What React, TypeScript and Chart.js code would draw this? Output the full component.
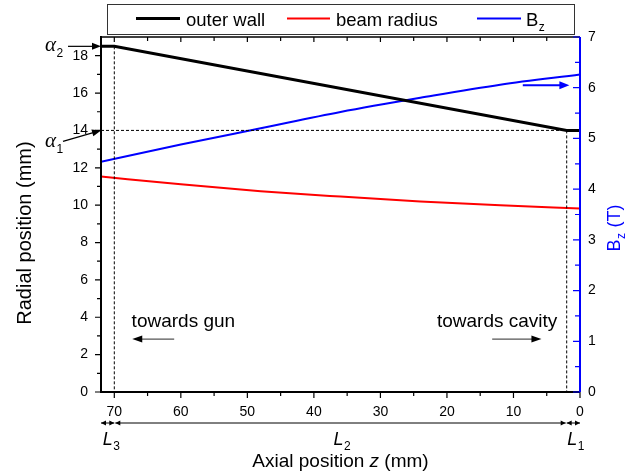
import React, { useEffect, useRef } from "react";
import { Chart, registerables } from "chart.js";

Chart.register(...registerables);

// ---- data ----
const curveZ = [72, 60, 48, 36, 24, 12, 0];
const beamRadius = [11.53, 11.12, 10.75, 10.46, 10.2, 9.99, 9.82];
const bzField = [4.54, 4.88, 5.2, 5.52, 5.8, 6.06, 6.26];
const wallZ = [72, 70, 2, 0];
const wallR = [18.5, 18.5, 14, 14];

const xTicks = [0, 10, 20, 30, 40, 50, 60, 70];
const xMinorTicks = [5, 15, 25, 35, 45, 55, 65];
const yLeftTicks = [0, 2, 4, 6, 8, 10, 12, 14, 16, 18];
const yLeftMinor = [1, 3, 5, 7, 9, 11, 13, 15, 17];
const yRightTicks = [0, 1, 2, 3, 4, 5, 6, 7];
const yRightMinor = [0.5, 1.5, 2.5, 3.5, 4.5, 5.5, 6.5];

const alpha1 = 14;
const alpha2 = 18.5;
const zL3 = 70; // end of L3 section
const zL1 = 2; // start of L1 section

const SANS = "'Liberation Sans', Arial, sans-serif";
const SERIF = "'Liberation Serif', 'Times New Roman', serif";

function arrowHead(ctx: CanvasRenderingContext2D, x1: number, y1: number, x2: number, y2: number, len: number, half: number, color: string) {
  const ang = Math.atan2(y2 - y1, x2 - x1);
  ctx.save();
  ctx.fillStyle = color;
  ctx.beginPath();
  ctx.moveTo(x2, y2);
  ctx.lineTo(x2 - len * Math.cos(ang) + half * Math.sin(ang), y2 - len * Math.sin(ang) - half * Math.cos(ang));
  ctx.lineTo(x2 - len * Math.cos(ang) - half * Math.sin(ang), y2 - len * Math.sin(ang) + half * Math.cos(ang));
  ctx.closePath();
  ctx.fill();
  ctx.restore();
}

function arrow(ctx: CanvasRenderingContext2D, x1: number, y1: number, x2: number, y2: number, opts: { color?: string; headColor?: string; width?: number; len?: number; half?: number } = {}) {
  const color = opts.color || "#000";
  const len = opts.len ?? 9;
  const half = opts.half ?? 3.5;
  const ang = Math.atan2(y2 - y1, x2 - x1);
  ctx.save();
  ctx.strokeStyle = color;
  ctx.lineWidth = opts.width ?? 1.2;
  ctx.beginPath();
  ctx.moveTo(x1, y1);
  ctx.lineTo(x2 - (len * 0.6) * Math.cos(ang), y2 - (len * 0.6) * Math.sin(ang));
  ctx.stroke();
  ctx.restore();
  arrowHead(ctx, x1, y1, x2, y2, len, half, opts.headColor || color);
}

function dimSegment(ctx: CanvasRenderingContext2D, xa: number, xb: number, y: number) {
  ctx.save();
  ctx.strokeStyle = "#000";
  ctx.lineWidth = 1;
  ctx.beginPath();
  ctx.moveTo(xa, y);
  ctx.lineTo(xb, y);
  ctx.stroke();
  ctx.restore();
  arrowHead(ctx, xb, y, xa, y, 5, 2.5, "#000");
  arrowHead(ctx, xa, y, xb, y, 5, 2.5, "#000");
}

function subText(ctx: CanvasRenderingContext2D, x: number, y: number, main: string, mainFont: string, sub: string, subFont: string, subDy: number) {
  ctx.font = mainFont;
  ctx.fillText(main, x, y);
  const w = ctx.measureText(main).width;
  ctx.font = subFont;
  ctx.fillText(sub, x + w + 0.5, y + subDy);
  return w + 0.5 + ctx.measureText(sub).width;
}

const decorPlugin = {
  id: "decor",
  afterDraw(chart: any) {
    const { ctx, chartArea: a, scales } = chart;
    const x = scales.x;
    const yL = scales.yL;
    const yR = scales.yR;
    ctx.save();

    // dashed guide lines
    ctx.strokeStyle = "#000";
    ctx.lineWidth = 1;
    ctx.setLineDash([3, 2]);
    ctx.beginPath();
    ctx.moveTo(x.getPixelForValue(zL3), yL.getPixelForValue(alpha2));
    ctx.lineTo(x.getPixelForValue(zL3), a.bottom);
    ctx.moveTo(x.getPixelForValue(zL1), yL.getPixelForValue(alpha1));
    ctx.lineTo(x.getPixelForValue(zL1), a.bottom);
    ctx.moveTo(a.left, yL.getPixelForValue(alpha1));
    ctx.lineTo(x.getPixelForValue(zL1), yL.getPixelForValue(alpha1));
    ctx.stroke();
    ctx.setLineDash([]);

    // frame
    ctx.lineWidth = 1.5;
    ctx.strokeStyle = "#000";
    ctx.beginPath();
    ctx.moveTo(a.left, a.top);
    ctx.lineTo(a.right, a.top);
    ctx.stroke();
    ctx.lineWidth = 2;
    ctx.beginPath();
    ctx.moveTo(a.left, a.top - 1);
    ctx.lineTo(a.left, a.bottom);
    ctx.lineTo(a.right, a.bottom);
    ctx.stroke();

    // x ticks (bottom outward, top inward)
    ctx.lineWidth = 1.2;
    ctx.beginPath();
    xTicks.forEach((v) => {
      const px = x.getPixelForValue(v);
      ctx.moveTo(px, a.bottom);
      ctx.lineTo(px, a.bottom + 6);
      ctx.moveTo(px, a.top);
      ctx.lineTo(px, a.top + 5);
    });
    xMinorTicks.forEach((v) => {
      const px = x.getPixelForValue(v);
      ctx.moveTo(px, a.bottom);
      ctx.lineTo(px, a.bottom + 4);
      ctx.moveTo(px, a.top);
      ctx.lineTo(px, a.top + 4);
    });
    // left ticks outward
    yLeftTicks.forEach((v) => {
      const py = yL.getPixelForValue(v);
      ctx.moveTo(a.left, py);
      ctx.lineTo(a.left - 6, py);
    });
    yLeftMinor.forEach((v) => {
      const py = yL.getPixelForValue(v);
      ctx.moveTo(a.left, py);
      ctx.lineTo(a.left - 4, py);
    });
    ctx.stroke();

    // right axis (blue)
    ctx.strokeStyle = "#0000ff";
    ctx.lineWidth = 2;
    ctx.beginPath();
    ctx.moveTo(a.right, a.top);
    ctx.lineTo(a.right, a.bottom);
    ctx.stroke();
    ctx.lineWidth = 1.2;
    ctx.beginPath();
    yRightTicks.forEach((v) => {
      const py = yR.getPixelForValue(v);
      ctx.moveTo(a.right, py);
      ctx.lineTo(a.right - 7, py);
    });
    yRightMinor.forEach((v) => {
      const py = yR.getPixelForValue(v);
      ctx.moveTo(a.right, py);
      ctx.lineTo(a.right - 5, py);
    });
    ctx.stroke();

    // alpha arrows
    const y2p = yL.getPixelForValue(alpha2);
    const y1p = yL.getPixelForValue(alpha1);
    arrow(ctx, a.left - 33, y2p, a.left, y2p, { len: 9, half: 3.5 });
    arrow(ctx, a.left - 38, y1p + 11, a.left, y1p, { len: 9, half: 3.5 });
    ctx.fillStyle = "#000";
    ctx.textBaseline = "alphabetic";
    ctx.textAlign = "left";
    subText(ctx, 45, y2p + 5, "\u03b1", `italic 21px ${SERIF}`, "2", `12px ${SANS}`, 6);
    subText(ctx, 45, y1p + 17, "\u03b1", `italic 21px ${SERIF}`, "1", `12px ${SANS}`, 6);

    // blue arrow toward right axis
    const yb = yR.getPixelForValue(6.05);
    arrow(ctx, x.getPixelForValue(8.6), yb, x.getPixelForValue(1.6), yb, { color: "#0000ff", width: 2, len: 10, half: 4 });

    // towards gun / cavity
    ctx.fillStyle = "#000";
    ctx.font = `19px ${SANS}`;
    ctx.textAlign = "left";
    const yText = yL.getPixelForValue(3.5);
    ctx.fillText("towards gun", x.getPixelForValue(67.4), yText);
    ctx.fillText("towards cavity", x.getPixelForValue(21.5), yText);
    const yArr = yL.getPixelForValue(2.83);
    arrow(ctx, x.getPixelForValue(61.0), yArr, x.getPixelForValue(67.3), yArr, { color: "#555", headColor: "#000", width: 1.2, len: 10, half: 3.5 });
    arrow(ctx, x.getPixelForValue(13.2), yArr, x.getPixelForValue(5.8), yArr, { color: "#555", headColor: "#000", width: 1.2, len: 10, half: 3.5 });

    // dimension line under x axis
    const yDim = a.bottom + 31;
    const p70 = x.getPixelForValue(zL3);
    const p2 = x.getPixelForValue(zL1);
    dimSegment(ctx, a.left, p70, yDim);
    dimSegment(ctx, p70 + 1, p2 - 1, yDim);
    dimSegment(ctx, p2, a.right, yDim);
    ctx.fillStyle = "#000";
    ctx.textAlign = "left";
    const yLab = a.bottom + 53;
    subText(ctx, (a.left + p70) / 2 - 5, yLab, "L", `italic 18px ${SANS}`, "3", `12px ${SANS}`, 5);
    subText(ctx, x.getPixelForValue(36) - 7, yLab, "L", `italic 18px ${SANS}`, "2", `12px ${SANS}`, 5);
    subText(ctx, (p2 + a.right) / 2 - 6, yLab, "L", `italic 18px ${SANS}`, "1", `12px ${SANS}`, 5);

    // x axis title
    const titleSize = 19;
    const p1 = "Axial position ";
    const p2t = "z";
    const p3 = " (mm)";
    ctx.font = `${titleSize}px ${SANS}`;
    const w1 = ctx.measureText(p1).width;
    const w3 = ctx.measureText(p3).width;
    ctx.font = `italic ${titleSize}px ${SANS}`;
    const w2 = ctx.measureText(p2t).width;
    const tx = (a.left + a.right) / 2 - (w1 + w2 + w3) / 2;
    const ty = a.bottom + 75;
    ctx.font = `${titleSize}px ${SANS}`;
    ctx.fillText(p1, tx, ty);
    ctx.font = `italic ${titleSize}px ${SANS}`;
    ctx.fillText(p2t, tx + w1, ty);
    ctx.font = `${titleSize}px ${SANS}`;
    ctx.fillText(p3, tx + w1 + w2, ty);

    // left y title
    ctx.save();
    ctx.translate(31, 233);
    ctx.rotate(-Math.PI / 2);
    ctx.textAlign = "center";
    ctx.font = `20px ${SANS}`;
    ctx.fillText("Radial position (mm)", 0, 0);
    ctx.restore();

    // right y title
    ctx.save();
    ctx.translate(620, 228);
    ctx.rotate(-Math.PI / 2);
    ctx.fillStyle = "#0000ff";
    ctx.textAlign = "left";
    ctx.font = `18px ${SANS}`;
    const wb = ctx.measureText("B").width;
    ctx.font = `12px ${SANS}`;
    const wz = ctx.measureText("z").width;
    ctx.font = `18px ${SANS}`;
    const wt = ctx.measureText(" (T)").width;
    const tot = wb + wz + 1 + wt;
    const sx = -tot / 2;
    ctx.fillText("B", sx, 0);
    ctx.font = `12px ${SANS}`;
    ctx.fillText("z", sx + wb + 0.5, 5);
    ctx.font = `18px ${SANS}`;
    ctx.fillText(" (T)", sx + wb + wz + 1, 0);
    ctx.restore();

    // legend
    ctx.strokeStyle = "#333";
    ctx.lineWidth = 1;
    ctx.strokeRect(107.5, 4.5, 467, 30);
    const ly = 18.5;
    const items = [
      { x0: 136, x1: 180, color: "#000", w: 3, text: "outer wall" },
      { x0: 287, x1: 330, color: "#ff0000", w: 2, text: "beam radius" },
      { x0: 477, x1: 521, color: "#0000ff", w: 2, text: "" },
    ];
    items.forEach((it) => {
      ctx.strokeStyle = it.color;
      ctx.lineWidth = it.w;
      ctx.beginPath();
      ctx.moveTo(it.x0, ly);
      ctx.lineTo(it.x1, ly);
      ctx.stroke();
      if (it.text) {
        ctx.fillStyle = "#000";
        ctx.font = `18.5px ${SANS}`;
        ctx.fillText(it.text, it.x1 + 6, 26);
      }
    });
    ctx.fillStyle = "#000";
    subText(ctx, 526, 26, "B", `18.5px ${SANS}`, "z", `12px ${SANS}`, 5);

    ctx.restore();
  },
};

export default function App() {
  const ref = useRef<HTMLCanvasElement | null>(null);
  useEffect(() => {
    if (!ref.current) return;
    const tickFont = { family: SANS, size: 14 };
    const chart = new Chart(ref.current, {
      type: "line",
      data: {
        datasets: [
          {
            label: "outer wall",
            data: wallZ.map((z, i) => ({ x: z, y: wallR[i] })),
            borderColor: "#000",
            borderWidth: 3,
            pointRadius: 0,
            yAxisID: "yL",
            tension: 0,
          },
          {
            label: "beam radius",
            data: curveZ.map((z, i) => ({ x: z, y: beamRadius[i] })),
            borderColor: "#ff0000",
            borderWidth: 2,
            pointRadius: 0,
            yAxisID: "yL",
            cubicInterpolationMode: "monotone",
          },
          {
            label: "Bz",
            data: curveZ.map((z, i) => ({ x: z, y: bzField[i] })),
            borderColor: "#0000ff",
            borderWidth: 2,
            pointRadius: 0,
            yAxisID: "yR",
            cubicInterpolationMode: "monotone",
          },
        ],
      },
      options: {
        animation: false,
        responsive: false,
        maintainAspectRatio: false,
        devicePixelRatio: 1,
        layout: { padding: { top: 37, left: 0, right: 0, bottom: 0 } },
        plugins: { legend: { display: false }, tooltip: { enabled: false } },
        scales: {
          x: {
            type: "linear",
            position: "bottom",
            reverse: true,
            min: 0,
            max: 72,
            grid: { display: false, drawTicks: false },
            border: { display: false },
            ticks: { font: tickFont, color: "#000", padding: 12, maxRotation: 0, autoSkip: false },
            afterBuildTicks: (s: any) => {
              s.ticks = xTicks.map((v) => ({ value: v }));
            },
            afterFit: (s: any) => {
              s.height = 84;
            },
          },
          yL: {
            type: "linear",
            position: "left",
            min: 0,
            max: 19,
            grid: { display: false, drawTicks: false },
            border: { display: false },
            ticks: { font: tickFont, color: "#000", padding: 13, autoSkip: false },
            afterBuildTicks: (s: any) => {
              s.ticks = yLeftTicks.map((v) => ({ value: v }));
            },
            afterFit: (s: any) => {
              s.width = 101;
            },
          },
          yR: {
            type: "linear",
            position: "right",
            min: 0,
            max: 7,
            grid: { display: false, drawTicks: false },
            border: { display: false },
            ticks: { font: tickFont, color: "#000", padding: 8, autoSkip: false },
            afterBuildTicks: (s: any) => {
              s.ticks = yRightTicks.map((v) => ({ value: v }));
            },
            afterFit: (s: any) => {
              s.width = 64;
            },
          },
        },
      } as any,
      plugins: [decorPlugin],
    });
    return () => chart.destroy();
  }, []);
  return (
    <div style={{ position: "fixed", left: 0, top: 0, width: 644, height: 476, background: "#fff" }}>
      <canvas ref={ref} width={644} height={476} style={{ display: "block", width: 644, height: 476 }} />
    </div>
  );
}
